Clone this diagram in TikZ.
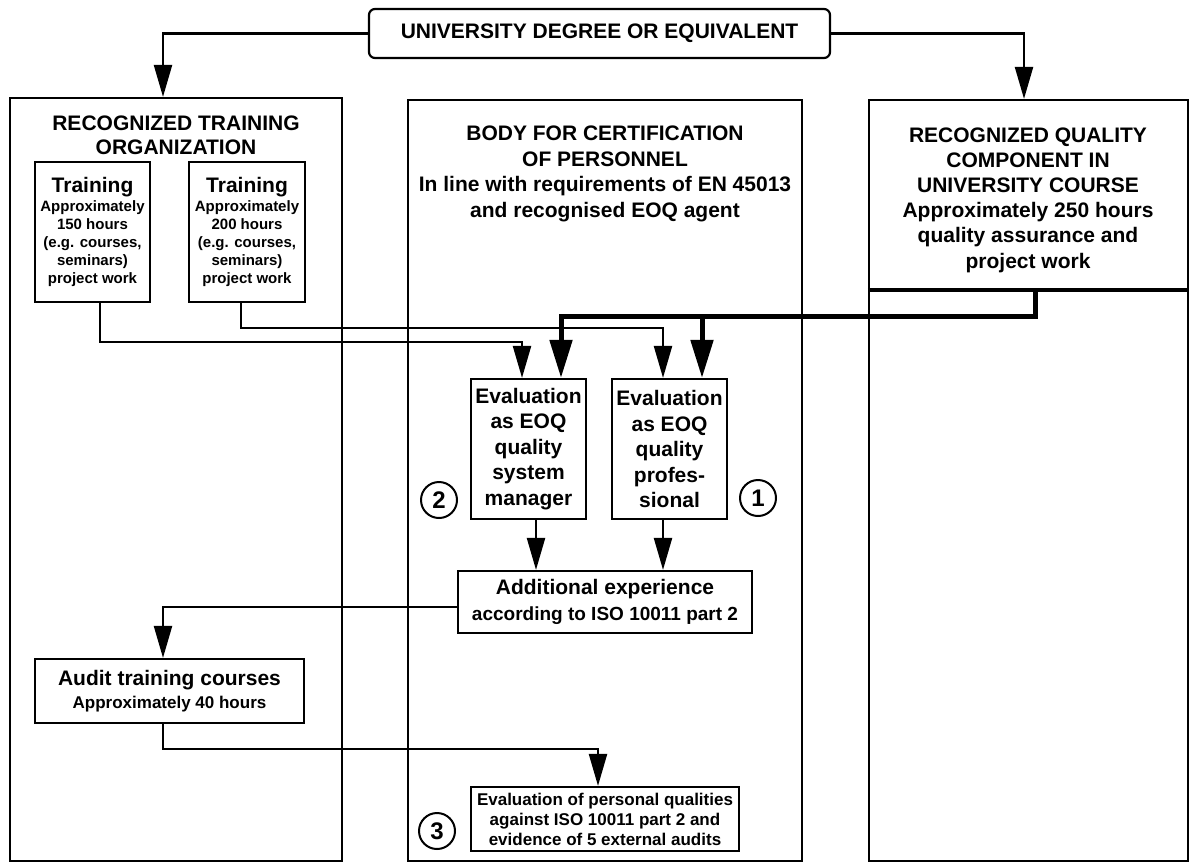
\documentclass[tikz,border=0pt]{standalone}
\usepackage{fontspec}
\setmainfont{Liberation Sans}
\usetikzlibrary{arrows.meta,calc}
\begin{document}
\begin{tikzpicture}[x=1pt,y=-1pt,
  box/.style={draw,line width=2.2pt,inner sep=0pt,align=center,font=\bfseries\fontsize{21}{25.5}\selectfont},
  sbox/.style={box,font=\bfseries\fontsize{15}{18}\selectfont},
  txt/.style={inner sep=0pt,align=center,font=\bfseries\fontsize{21}{25.5}\selectfont},
  conn/.style={line width=2.3pt,-{Triangle[length=32pt,width=18pt]}},
  thk/.style={line width=5pt,-{Triangle[length=38pt,width=22pt]}},
  num/.style={circle,draw,line width=2pt,minimum size=36pt,inner sep=0pt,font=\bfseries\fontsize{24}{24}\selectfont}]

\useasboundingbox (0,0) rectangle (1190,863);

% top box
\node[box,rounded corners=6pt,minimum width=461pt,minimum height=49pt] (ut) at (599.5,33.5) {UNIVERSITY DEGREE OR EQUIVALENT};

% left column
\node[box,minimum width=332pt,minimum height=763pt] (rto) at (176,479.5) {};
\node[txt,font=\bfseries\fontsize{21}{24}\selectfont] (rtoT) at (176,135) {RECOGNIZED TRAINING\\ORGANIZATION};
\node[sbox,minimum width=115pt,minimum height=140pt] (tr1) at (92.5,232) {{\fontsize{21}{21}\selectfont Training}\\[1pt]Approximately\\150 hours\\(e.g. courses,\\seminars)\\project work};
\node[sbox,minimum width=116pt,minimum height=140pt] (tr2) at (247,232) {{\fontsize{21}{21}\selectfont Training}\\[1pt]Approximately\\200 hours\\(e.g. courses,\\seminars)\\project work};
\node[box,font=\bfseries\fontsize{21}{23}\selectfont,minimum width=269pt,minimum height=64pt] (aud) at (169.5,691) {Audit training courses\\{\fontsize{17}{17}\selectfont Approximately 40 hours}};

% middle column
\node[box,minimum width=394pt,minimum height=761pt] (bcp) at (605,480.5) {};
\node[txt] (bcpT) at (605,174) {BODY FOR CERTIFICATION\\OF PERSONNEL\\In line with requirements of EN 45013\\and recognised EOQ agent};
\node[box,minimum width=115pt,minimum height=140pt] (ev1) at (528.5,449) {Evaluation\\as EOQ\\quality\\system\\manager};
\node[box,minimum width=115pt,minimum height=140pt] (ev2) at (669.5,449) {Evaluation\\as EOQ\\quality\\profes-\\sional};
\node[box,font=\bfseries\fontsize{21}{26}\selectfont,minimum width=294pt,minimum height=62pt] (add) at (605,602) {Additional experience\\{\fontsize{19}{19}\selectfont according to ISO 10011 part 2}};
\node[box,font=\bfseries\fontsize{17}{20}\selectfont,minimum width=268pt,minimum height=64pt] (ev3) at (605,819) {Evaluation of personal qualities\\against ISO 10011 part 2 and\\evidence of 5 external audits};
\node[num] (c1) at (758,498) {1};
\node[num] (c2) at (439,500) {2};
\node[num] (c3) at (437,831) {3};

% right column
\node[box,minimum width=319pt,minimum height=761pt] (rqcol) at (1028.5,480.5) {};
\node[box,minimum width=319pt,minimum height=189pt] (rq) at (1028.5,194.5) {};
\draw[line width=3.5pt] (rq.south west) -- (rq.south east);
\node[txt,font=\bfseries\fontsize{21}{25.2}\selectfont] (rqT) at (1028,200) {RECOGNIZED QUALITY\\COMPONENT IN\\UNIVERSITY COURSE\\Approximately 250 hours\\quality assurance and\\project work};

% coordinates for connector ends
\coordinate (rtoin) at ([xshift=-13pt]rto.north);
\coordinate (rqin) at ([xshift=-4.5pt]rqcol.north);
\coordinate (tr1out) at ([xshift=7.5pt]tr1.south);
\coordinate (tr2out) at ([xshift=-6pt]tr2.south);
\coordinate (ev1a) at ([xshift=-6.5pt]ev1.north);
\coordinate (ev1b) at ([xshift=32.5pt]ev1.north);
\coordinate (ev2a) at ([xshift=-6.5pt]ev2.north);
\coordinate (ev2b) at ([xshift=32.5pt]ev2.north);
\coordinate (rqout) at ([xshift=6.5pt]rq.south);
\coordinate (ev1out) at ([xshift=7.5pt]ev1.south);
\coordinate (ev2out) at ([xshift=-6.5pt]ev2.south);
\coordinate (addout) at ([yshift=-5pt]add.west);
\coordinate (audin) at ([xshift=-6.5pt]aud.north);
\coordinate (audout) at ([xshift=-6.5pt]aud.south);
\coordinate (ev3in) at ([xshift=-7pt]ev3.north);

% connectors
\draw[conn] (ut.west) -| (rtoin);
\draw[conn] (ut.east) -| (rqin);
\draw[conn] (tr1out) -- ++(0,39) -| (ev1a);
\draw[conn] (tr2out) -- ++(0,25) -| (ev2a);
\draw[thk] (rqout) -- ++(0,26) coordinate (tb) -| (ev1b);
\draw[thk] (tb -| ev2b) -- (ev2b);
\draw[conn] (ev1out) -- (ev1out |- add.north);
\draw[conn] (ev2out) -- (ev2out |- add.north);
\draw[conn] (addout) -| (audin);
\draw[conn] (audout) -- ++(0,25) -| (ev3in);
\end{tikzpicture}
\end{document}
